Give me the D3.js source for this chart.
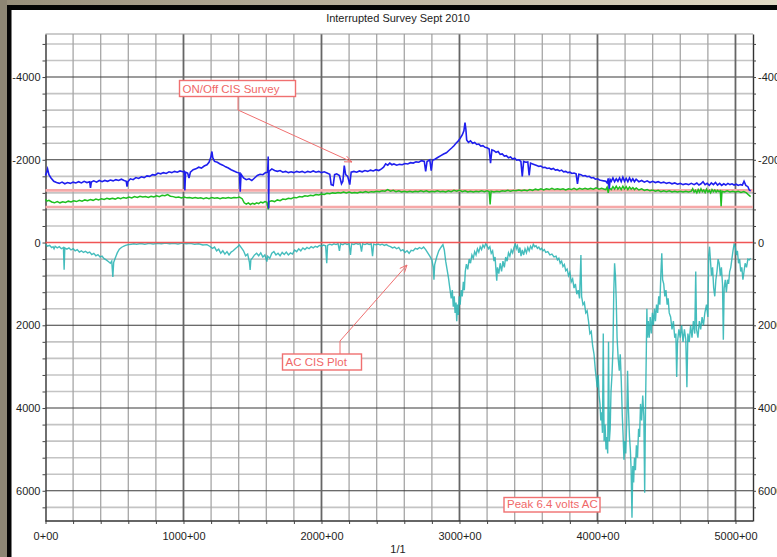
<!DOCTYPE html>
<html><head><meta charset="utf-8">
<script src="https://cdn.jsdelivr.net/npm/d3@7"></script>
<style>body{margin:0;background:#fff}svg{display:block}text{font-family:"Liberation Sans",Arial,sans-serif}</style>
</head><body><svg id="c" width="777" height="557"></svg>
<script>
const title = "Interrupted Survey Sept 2010";
const footer = "1/1";
const xTickValues = [0,1000,2000,3000,4000,5000];
const yTickValues = [-4000,-2000,0,2000,4000,6000];
const criteriaLevels = [-1260,-860];
const zeroLevel = [0];
const annotations = [
  {text:"ON/Off CIS Survey"},
  {text:"AC CIS Plot"},
  {text:"Peak 6.4 volts AC"}
];
// ON potential (blue), mV, plotted negative up
const onSurvey = [[0,-1620],[8,-1700],[15,-1780],[25,-1640],[40,-1560],[60,-1480],[80,-1450],[100,-1430],[120,-1460],[140,-1420],[160,-1450],[180,-1430],[200,-1460],[220,-1440],[240,-1470],[260,-1440],[280,-1480],[300,-1450],[320,-1470],[326,-1320],[332,-1460],[350,-1490],[370,-1460],[390,-1500],[410,-1470],[430,-1500],[450,-1480],[470,-1510],[490,-1490],[510,-1520],[530,-1500],[550,-1530],[570,-1500],[585,-1480],[591,-1350],[597,-1470],[615,-1540],[635,-1520],[655,-1570],[675,-1550],[695,-1590],[715,-1570],[735,-1610],[755,-1600],[775,-1640],[795,-1630],[815,-1680],[835,-1660],[855,-1690],[875,-1670],[895,-1710],[915,-1690],[935,-1720],[955,-1700],[975,-1730],[995,-1710],[1005,-1720],[1010,-1260],[1015,-1700],[1030,-1680],[1040,-1560],[1050,-1700],[1070,-1760],[1090,-1780],[1110,-1820],[1130,-1800],[1150,-1850],[1170,-1880],[1185,-1940],[1198,-2060],[1206,-2200],[1212,-2050],[1225,-1960],[1245,-1940],[1265,-1900],[1285,-1870],[1305,-1830],[1325,-1800],[1345,-1760],[1365,-1730],[1385,-1700],[1405,-1680],[1411,-1230],[1417,-1650],[1435,-1560],[1455,-1520],[1475,-1540],[1495,-1500],[1515,-1560],[1535,-1620],[1555,-1650],[1575,-1640],[1595,-1690],[1610,-1700],[1614,-2080],[1617,-820],[1620,-1720],[1640,-1780],[1660,-1740],[1680,-1720],[1700,-1740],[1720,-1700],[1740,-1720],[1760,-1690],[1780,-1710],[1800,-1690],[1820,-1720],[1840,-1700],[1860,-1720],[1880,-1690],[1900,-1720],[1920,-1700],[1940,-1730],[1960,-1700],[1980,-1720],[2000,-1690],[2020,-1710],[2040,-1680],[2060,-1650],[2070,-1400],[2085,-1380],[2095,-1640],[2110,-1660],[2130,-1620],[2145,-1420],[2155,-1480],[2165,-1860],[2175,-1640],[2190,-1600],[2205,-1400],[2215,-1700],[2235,-1720],[2255,-1700],[2275,-1730],[2295,-1710],[2315,-1740],[2335,-1720],[2355,-1750],[2375,-1730],[2395,-1760],[2415,-1740],[2435,-1780],[2450,-1820],[2465,-1900],[2480,-1870],[2495,-1920],[2510,-1880],[2525,-1900],[2545,-1870],[2565,-1890],[2585,-1880],[2605,-1910],[2625,-1900],[2645,-1930],[2665,-1920],[2685,-1950],[2705,-1940],[2725,-1980],[2745,-1960],[2755,-1720],[2765,-1960],[2785,-2000],[2795,-1740],[2805,-1990],[2825,-2020],[2845,-2060],[2865,-2100],[2885,-2140],[2905,-2170],[2925,-2230],[2945,-2290],[2960,-2340],[2975,-2400],[2990,-2450],[3005,-2520],[3020,-2600],[3032,-2700],[3040,-2900],[3046,-2750],[3052,-2480],[3065,-2420],[3080,-2460],[3095,-2400],[3110,-2420],[3125,-2370],[3140,-2380],[3155,-2330],[3170,-2340],[3185,-2300],[3200,-2290],[3215,-2260],[3225,-1920],[3235,-2240],[3250,-2220],[3265,-2180],[3280,-2200],[3295,-2130],[3310,-2140],[3325,-2090],[3340,-2100],[3355,-2050],[3370,-2070],[3385,-2020],[3400,-2040],[3415,-1990],[3430,-2000],[3445,-1960],[3455,-1600],[3465,-1960],[3480,-1940],[3495,-1950],[3505,-1620],[3515,-1920],[3530,-1900],[3545,-1880],[3560,-1860],[3575,-1840],[3590,-1850],[3605,-1810],[3620,-1820],[3635,-1790],[3650,-1800],[3665,-1770],[3680,-1790],[3695,-1750],[3710,-1760],[3725,-1730],[3740,-1750],[3755,-1710],[3770,-1720],[3785,-1690],[3800,-1700],[3815,-1670],[3830,-1680],[3845,-1660],[3855,-1420],[3865,-1650],[3880,-1640],[3895,-1610],[3910,-1620],[3925,-1590],[3940,-1600],[3955,-1560],[3970,-1570],[3985,-1530],[4000,-1540],[4015,-1510],[4030,-1500],[4045,-1490],[4060,-1480],[4070,-1440],[4078,-1550],[4085,-1300],[4092,-1520],[4100,-1480],[4112,-1560],[4124,-1470],[4136,-1540],[4148,-1480],[4160,-1560],[4172,-1470],[4184,-1580],[4196,-1480],[4208,-1550],[4220,-1470],[4232,-1560],[4244,-1480],[4256,-1540],[4268,-1470],[4280,-1530],[4300,-1470],[4320,-1500],[4340,-1460],[4360,-1490],[4380,-1450],[4400,-1480],[4420,-1450],[4440,-1470],[4460,-1440],[4480,-1460],[4500,-1430],[4520,-1450],[4540,-1420],[4560,-1440],[4580,-1410],[4600,-1430],[4620,-1400],[4640,-1420],[4660,-1400],[4680,-1430],[4700,-1400],[4720,-1440],[4735,-1390],[4750,-1420],[4765,-1470],[4780,-1400],[4795,-1430],[4810,-1380],[4825,-1440],[4840,-1400],[4855,-1450],[4870,-1390],[4885,-1430],[4900,-1380],[4915,-1420],[4930,-1390],[4945,-1430],[4960,-1400],[4975,-1420],[4990,-1390],[5005,-1410],[5020,-1380],[5035,-1400],[5050,-1390],[5062,-1480],[5075,-1380],[5090,-1350],[5100,-1270],[5110,-1250]];
// OFF potential (green)
const offSurvey = [[0,-1050],[10,-1000],[25,-1020],[45,-980],[65,-960],[85,-990],[105,-960],[125,-985],[145,-970],[165,-1000],[185,-980],[205,-1010],[225,-990],[245,-1020],[265,-1000],[285,-1030],[305,-1010],[325,-1040],[345,-1020],[365,-1050],[385,-1030],[405,-1060],[425,-1040],[445,-1070],[465,-1050],[485,-1070],[505,-1050],[525,-1080],[545,-1060],[565,-1090],[585,-1070],[605,-1100],[625,-1080],[645,-1110],[665,-1090],[685,-1120],[705,-1100],[725,-1110],[745,-1090],[765,-1120],[785,-1100],[805,-1130],[825,-1110],[845,-1140],[865,-1130],[885,-1160],[905,-1120],[925,-1110],[945,-1090],[965,-1100],[985,-1080],[1005,-1100],[1025,-1080],[1045,-1090],[1065,-1070],[1085,-1090],[1105,-1070],[1125,-1080],[1145,-1060],[1165,-1080],[1185,-1060],[1205,-1090],[1225,-1070],[1245,-1080],[1265,-1060],[1285,-1080],[1305,-1070],[1325,-1090],[1345,-1070],[1365,-1090],[1385,-1080],[1405,-1100],[1425,-1060],[1440,-960],[1455,-930],[1470,-960],[1485,-920],[1500,-950],[1515,-930],[1530,-960],[1545,-940],[1560,-980],[1575,-960],[1590,-990],[1605,-970],[1614,-800],[1620,-990],[1640,-1010],[1660,-990],[1680,-1030],[1700,-1010],[1720,-1050],[1740,-1040],[1760,-1070],[1780,-1060],[1800,-1090],[1820,-1080],[1840,-1110],[1860,-1100],[1880,-1130],[1900,-1120],[1920,-1140],[1940,-1130],[1960,-1160],[1980,-1150],[2000,-1170],[2020,-1160],[2040,-1190],[2060,-1180],[2080,-1200],[2100,-1190],[2120,-1210],[2140,-1200],[2160,-1220],[2180,-1200],[2200,-1220],[2220,-1200],[2240,-1210],[2260,-1200],[2280,-1220],[2300,-1210],[2320,-1230],[2340,-1210],[2360,-1230],[2380,-1220],[2400,-1240],[2420,-1230],[2440,-1250],[2460,-1240],[2480,-1280],[2500,-1240],[2520,-1260],[2540,-1230],[2560,-1250],[2580,-1220],[2600,-1240],[2620,-1220],[2640,-1240],[2660,-1220],[2680,-1240],[2700,-1230],[2720,-1250],[2740,-1230],[2760,-1250],[2780,-1220],[2800,-1240],[2820,-1230],[2840,-1250],[2860,-1230],[2880,-1240],[2900,-1220],[2920,-1250],[2940,-1230],[2960,-1260],[2980,-1240],[3000,-1270],[3020,-1230],[3040,-1250],[3060,-1220],[3080,-1240],[3100,-1220],[3120,-1240],[3140,-1230],[3160,-1250],[3180,-1230],[3200,-1250],[3215,-1230],[3222,-920],[3229,-1240],[3250,-1220],[3270,-1240],[3290,-1230],[3310,-1250],[3330,-1240],[3350,-1260],[3370,-1240],[3390,-1260],[3410,-1250],[3430,-1270],[3450,-1250],[3470,-1270],[3490,-1250],[3510,-1280],[3530,-1260],[3550,-1290],[3570,-1270],[3590,-1300],[3610,-1270],[3630,-1300],[3650,-1280],[3670,-1310],[3690,-1280],[3710,-1300],[3730,-1280],[3750,-1300],[3770,-1270],[3790,-1300],[3810,-1280],[3830,-1310],[3850,-1280],[3870,-1310],[3890,-1290],[3910,-1310],[3930,-1290],[3950,-1310],[3970,-1290],[3990,-1320],[4010,-1290],[4030,-1310],[4050,-1290],[4060,-1280],[4070,-1340],[4078,-1200],[4085,-1320],[4100,-1280],[4112,-1350],[4124,-1290],[4136,-1360],[4148,-1290],[4160,-1340],[4172,-1280],[4184,-1360],[4196,-1290],[4208,-1350],[4220,-1280],[4232,-1340],[4244,-1290],[4256,-1330],[4268,-1280],[4281,-1320],[4300,-1270],[4320,-1300],[4340,-1260],[4360,-1280],[4380,-1250],[4400,-1270],[4420,-1240],[4440,-1260],[4460,-1230],[4480,-1250],[4500,-1230],[4520,-1250],[4540,-1220],[4560,-1240],[4580,-1220],[4600,-1240],[4620,-1220],[4640,-1240],[4660,-1220],[4680,-1240],[4690,-1300],[4700,-1220],[4710,-1260],[4720,-1200],[4730,-1280],[4740,-1220],[4750,-1300],[4760,-1230],[4770,-1270],[4780,-1210],[4790,-1290],[4800,-1220],[4810,-1260],[4820,-1200],[4830,-1280],[4840,-1230],[4850,-1270],[4860,-1220],[4870,-1260],[4880,-1230],[4890,-1250],[4896,-880],[4902,-1240],[4920,-1220],[4940,-1250],[4960,-1220],[4980,-1240],[5000,-1220],[5020,-1240],[5040,-1210],[5060,-1230],[5080,-1200],[5095,-1150],[5110,-1110]];
// AC voltage (cyan), mV, plotted positive down
const acSurvey = [[0,40],[15,90],[30,70],[45,120],[55,100],[62,150],[70,90],[85,130],[100,100],[115,150],[130,120],[135,660],[140,130],[155,160],[170,130],[185,180],[200,150],[215,200],[230,170],[245,230],[260,200],[275,240],[290,210],[305,250],[320,230],[335,290],[350,260],[365,320],[380,290],[395,350],[410,330],[425,390],[440,420],[455,460],[470,500],[480,450],[488,830],[494,480],[505,380],[520,250],[535,160],[550,120],[565,90],[580,70],[600,50],[620,40],[640,30],[660,40],[690,25],[720,40],[750,20],[780,35],[810,20],[840,30],[870,15],[900,30],[930,20],[960,35],[990,15],[1020,30],[1050,20],[1080,40],[1110,30],[1140,60],[1170,50],[1190,90],[1210,140],[1225,110],[1240,200],[1255,160],[1270,260],[1285,200],[1300,280],[1315,220],[1330,300],[1345,230],[1360,200],[1375,150],[1390,110],[1405,60],[1420,130],[1435,200],[1450,320],[1465,280],[1478,480],[1483,660],[1488,420],[1500,370],[1515,300],[1530,260],[1545,320],[1560,250],[1575,350],[1590,300],[1604,460],[1610,330],[1625,380],[1640,260],[1655,220],[1670,300],[1685,260],[1700,320],[1715,240],[1730,290],[1745,230],[1760,300],[1775,250],[1790,280],[1805,180],[1820,220],[1835,150],[1850,200],[1865,130],[1880,170],[1895,120],[1910,150],[1925,100],[1940,130],[1955,90],[1970,110],[1985,70],[2000,90],[2015,60],[2030,80],[2038,500],[2044,70],[2060,40],[2075,60],[2090,30],[2105,50],[2120,25],[2130,200],[2138,30],[2155,50],[2170,20],[2185,45],[2200,25],[2210,300],[2218,30],[2235,45],[2250,20],[2265,40],[2280,25],[2290,220],[2298,30],[2315,50],[2330,25],[2345,45],[2360,30],[2370,330],[2378,40],[2395,55],[2410,35],[2425,60],[2440,40],[2455,70],[2470,50],[2485,80],[2500,100],[2515,130],[2530,110],[2545,150],[2560,120],[2575,200],[2590,170],[2605,240],[2620,200],[2635,260],[2650,190],[2665,200],[2680,140],[2695,160],[2710,120],[2725,150],[2740,110],[2755,170],[2770,250],[2785,330],[2800,420],[2810,600],[2815,900],[2820,540],[2835,350],[2850,200],[2865,120],[2880,50],[2890,180],[2900,450],[2910,650],[2920,850],[2930,1100],[2940,1350],[2948,1150],[2955,1550],[2962,1300],[2968,1700],[2975,1450],[2980,1900],[2986,1500],[2992,1750],[2998,1300],[3005,1500],[3012,1150],[3020,1300],[3028,950],[3035,1150],[3042,700],[3050,520],[3060,650],[3070,400],[3080,500],[3090,300],[3100,380],[3110,220],[3120,300],[3130,150],[3140,230],[3150,100],[3160,170],[3170,60],[3180,120],[3190,25],[3200,80],[3210,150],[3220,100],[3230,260],[3240,200],[3250,450],[3258,350],[3265,700],[3270,920],[3275,600],[3285,750],[3295,500],[3305,700],[3315,450],[3325,600],[3335,350],[3345,450],[3355,250],[3365,330],[3375,180],[3385,250],[3395,120],[3405,30],[3412,150],[3420,80],[3430,250],[3438,120],[3446,330],[3455,180],[3465,300],[3475,150],[3485,250],[3495,120],[3505,200],[3515,90],[3525,150],[3535,40],[3545,100],[3555,80],[3565,140],[3575,110],[3585,170],[3595,140],[3605,200],[3615,170],[3625,240],[3640,220],[3655,300],[3670,280],[3685,350],[3700,330],[3710,420],[3720,380],[3730,500],[3740,450],[3750,580],[3760,530],[3770,680],[3780,640],[3790,800],[3800,720],[3810,950],[3820,880],[3830,1100],[3840,1000],[3850,1250],[3860,1150],[3870,1350],[3880,300],[3885,1300],[3895,1500],[3905,1450],[3915,1700],[3925,1650],[3935,1900],[3945,2200],[3955,2150],[3965,2500],[3975,2700],[3985,3100],[3992,3300],[3998,3500],[4005,3200],[4012,3700],[4018,3900],[4024,4300],[4030,4100],[4036,4600],[4042,2200],[4048,4800],[4055,4400],[4062,5000],[4068,4700],[4074,5100],[4080,2400],[4086,4800],[4092,4500],[4098,3600],[4105,3200],[4112,2600],[4118,1200],[4124,500],[4130,800],[4136,1400],[4142,2300],[4150,2800],[4158,3100],[4165,2700],[4172,3300],[4180,4200],[4186,4700],[4192,5250],[4198,4800],[4205,5100],[4212,4300],[4218,3100],[4224,4000],[4232,4700],[4238,5000],[4244,5500],[4250,6650],[4256,5400],[4262,5800],[4268,5200],[4275,5500],[4282,4900],[4290,5200],[4298,4500],[4305,4700],[4312,3900],[4320,4300],[4328,3700],[4336,4200],[4342,6050],[4348,4000],[4354,2600],[4358,1600],[4362,2300],[4368,1900],[4375,2300],[4382,1800],[4390,2200],[4398,1700],[4405,2000],[4413,1600],[4420,1900],[4428,1500],[4436,1700],[4444,1300],[4452,1500],[4460,700],[4466,260],[4472,900],[4480,1000],[4488,1300],[4496,1150],[4505,1500],[4512,1350],[4520,1700],[4530,1800],[4540,2100],[4550,1900],[4560,2300],[4568,2200],[4574,3250],[4580,2400],[4590,2100],[4600,2300],[4610,2000],[4620,2400],[4630,2100],[4640,2350],[4648,3500],[4655,2200],[4665,2400],[4675,2000],[4685,2300],[4695,1900],[4705,2200],[4712,700],[4718,2100],[4728,2300],[4738,1900],[4748,2100],[4758,1800],[4768,2000],[4778,1700],[4790,1500],[4800,1800],[4806,300],[4812,100],[4818,400],[4826,800],[4834,600],[4842,1100],[4850,1300],[4858,900],[4866,700],[4874,400],[4882,500],[4890,800],[4898,600],[4906,1000],[4912,2350],[4918,1100],[4926,900],[4934,1200],[4942,900],[4950,1000],[4958,700],[4966,600],[4974,400],[4982,200],[4990,40],[4998,100],[5006,300],[5014,200],[5022,500],[5030,400],[5038,700],[5046,600],[5054,900],[5062,700],[5070,500],[5080,600],[5090,400],[5100,420],[5110,380]];

const svg = d3.select("#c");
const W = 777, H = 557;
const plot = {l:45.5, r:753, t:34, b:521};
const x = d3.scaleLinear().domain([0,5127]).range([plot.l, plot.r]);
const y = d3.scaleLinear().domain([-5040,6730]).range([plot.t, plot.b]);

// frame
const defs = svg.append("defs");
const g1 = defs.append("linearGradient").attr("id","tan");
g1.append("stop").attr("offset","0%").attr("stop-color","#988f7b");
g1.append("stop").attr("offset","100%").attr("stop-color","#e2dac6");
svg.append("rect").attr("width",W).attr("height",H).attr("fill","#fff");
svg.append("rect").attr("x",0).attr("y",0).attr("width",W).attr("height",6).attr("fill","url(#tan)");
svg.append("rect").attr("x",0).attr("y",0).attr("width",7).attr("height",H).attr("fill","#8e8674");
svg.append("rect").attr("x",7).attr("y",5).attr("width",W-7).attr("height",5).attr("fill","#050505");
svg.append("rect").attr("x",7).attr("y",5).attr("width",4.5).attr("height",H-5).attr("fill","#050505");

// grid
const vMinor = d3.range(200, 5001, 200).filter(v => v % 1000 !== 0);
const vMajor = d3.range(1000, 5001, 1000);
const hMinor = d3.range(-4800, 6401, 400).filter(v => v % 2000 !== 0);
const hMajor = d3.range(-4000, 6001, 2000);
const grid = svg.append("g");
grid.selectAll(".hm").data(hMinor).join("line")
  .attr("x1",plot.l).attr("x2",plot.r).attr("y1",d=>y(d)).attr("y2",d=>y(d))
  .attr("stroke","#c4c4c4").attr("stroke-width",1.6);
grid.selectAll(".vm").data(vMinor).join("line")
  .attr("y1",plot.t).attr("y2",plot.b).attr("x1",d=>x(d)).attr("x2",d=>x(d))
  .attr("stroke","#a6a6a6").attr("stroke-width",1.3);
grid.selectAll(".hM").data(hMajor).join("line")
  .attr("x1",plot.l).attr("x2",plot.r).attr("y1",d=>y(d)).attr("y2",d=>y(d))
  .attr("stroke","#3a3a3a").attr("stroke-width",1.1);
grid.selectAll(".vM").data(vMajor).join("line")
  .attr("y1",plot.t).attr("y2",plot.b).attr("x1",d=>x(d)).attr("x2",d=>x(d))
  .attr("stroke","#666").attr("stroke-width",1.8);
grid.append("line").attr("x1",plot.l).attr("x2",plot.r).attr("y1",plot.t).attr("y2",plot.t)
  .attr("stroke","#9a9a9a").attr("stroke-width",1.2);

// axes
const fmtY = d => yTickValues.includes(d) ? String(d) : "";
const allY = d3.range(-4800, 6401, 400);
const axL = svg.append("g").attr("transform",`translate(${plot.l},0)`)
  .call(d3.axisLeft(y).tickValues(allY).tickSize(3).tickSizeOuter(0).tickPadding(2).tickFormat(fmtY));
const axR = svg.append("g").attr("transform",`translate(${plot.r},0)`)
  .call(d3.axisRight(y).tickValues(allY).tickSize(3).tickSizeOuter(0).tickPadding(2).tickFormat(fmtY));
const allX = d3.range(0, 5001, 200);
const axB = svg.append("g").attr("transform",`translate(0,${plot.b})`)
  .call(d3.axisBottom(x).tickValues(allX).tickSize(3).tickSizeOuter(0).tickPadding(8)
    .tickFormat(d => xTickValues.includes(d) ? d + "+00" : ""));
[axL, axR, axB].forEach(a => {
  a.select(".domain").attr("stroke","#333").attr("stroke-width",1.4);
  a.selectAll(".tick line").attr("stroke","#444");
  a.selectAll("text").attr("font-size","11px").attr("fill","#1e1e1e")
    .attr("font-family","'Liberation Sans',Arial,sans-serif");
});
axB.select(".domain").attr("d", `M${plot.l},0H${plot.r}`);

// reference lines
svg.append("g").selectAll("line").data(criteriaLevels).join("line")
  .attr("x1",plot.l).attr("x2",plot.r).attr("y1",d=>y(d)).attr("y2",d=>y(d))
  .attr("stroke","#f6a8a8").attr("stroke-width",2.6);

// series
const line = d3.line().x(d=>x(d[0])).y(d=>y(d[1]));
svg.append("path").datum(acSurvey).attr("d",line).attr("fill","none")
  .attr("stroke","#24b2b2").attr("stroke-width",1.4).attr("stroke-opacity",0.85);
svg.append("g").selectAll("line").data(zeroLevel).join("line")
  .attr("x1",plot.l).attr("x2",plot.r).attr("y1",d=>y(d)).attr("y2",d=>y(d))
  .attr("stroke","#f05555").attr("stroke-width",1.5);
svg.append("path").datum(offSurvey).attr("d",line).attr("fill","none")
  .attr("stroke","#1fbf1f").attr("stroke-width",1.5);
svg.append("path").datum(onSurvey).attr("d",line).attr("fill","none")
  .attr("stroke","#1f1fee").attr("stroke-width",1.6);

// title & footer
svg.append("text").attr("x",398).attr("y",21.5).attr("text-anchor","middle")
  .attr("font-size","11px").attr("fill","#222").text(title);
svg.append("text").attr("x",398).attr("y",553).attr("text-anchor","middle")
  .attr("font-size","11px").attr("fill","#222").text(footer);

// annotations
const red = "#f07070";
function box(x0, y0, w, h, txt) {
  svg.append("rect").attr("x",x0).attr("y",y0).attr("width",w).attr("height",h)
    .attr("fill","#fff").attr("stroke",red).attr("stroke-width",1.4);
  svg.append("text").attr("x",x0+3).attr("y",y0+h-4).attr("font-size","11.5px")
    .attr("fill","#f06868").text(txt);
}
function arrow(pts) {
  svg.append("path").attr("d", d3.line()(pts)).attr("fill","none").attr("stroke",red).attr("stroke-width",1);
  const [a, b] = pts.slice(-2);
  const ang = Math.atan2(b[1]-a[1], b[0]-a[0]);
  const L = 8, s = 0.4;
  const p1 = [b[0]-L*Math.cos(ang-s), b[1]-L*Math.sin(ang-s)];
  const p2 = [b[0]-L*Math.cos(ang+s), b[1]-L*Math.sin(ang+s)];
  svg.append("path").attr("d", d3.line()([p1, b, p2])).attr("fill","none").attr("stroke",red).attr("stroke-width",1);
}
arrow([[238,96],[238,110],[352,162]]);
box(179.5, 80.5, 116, 16, annotations[0].text);
arrow([[340,354],[340,341],[407,265]]);
box(282.5, 354, 79, 16, annotations[1].text);
box(504, 497.5, 96, 14.5, annotations[2].text);
</script></body></html>
